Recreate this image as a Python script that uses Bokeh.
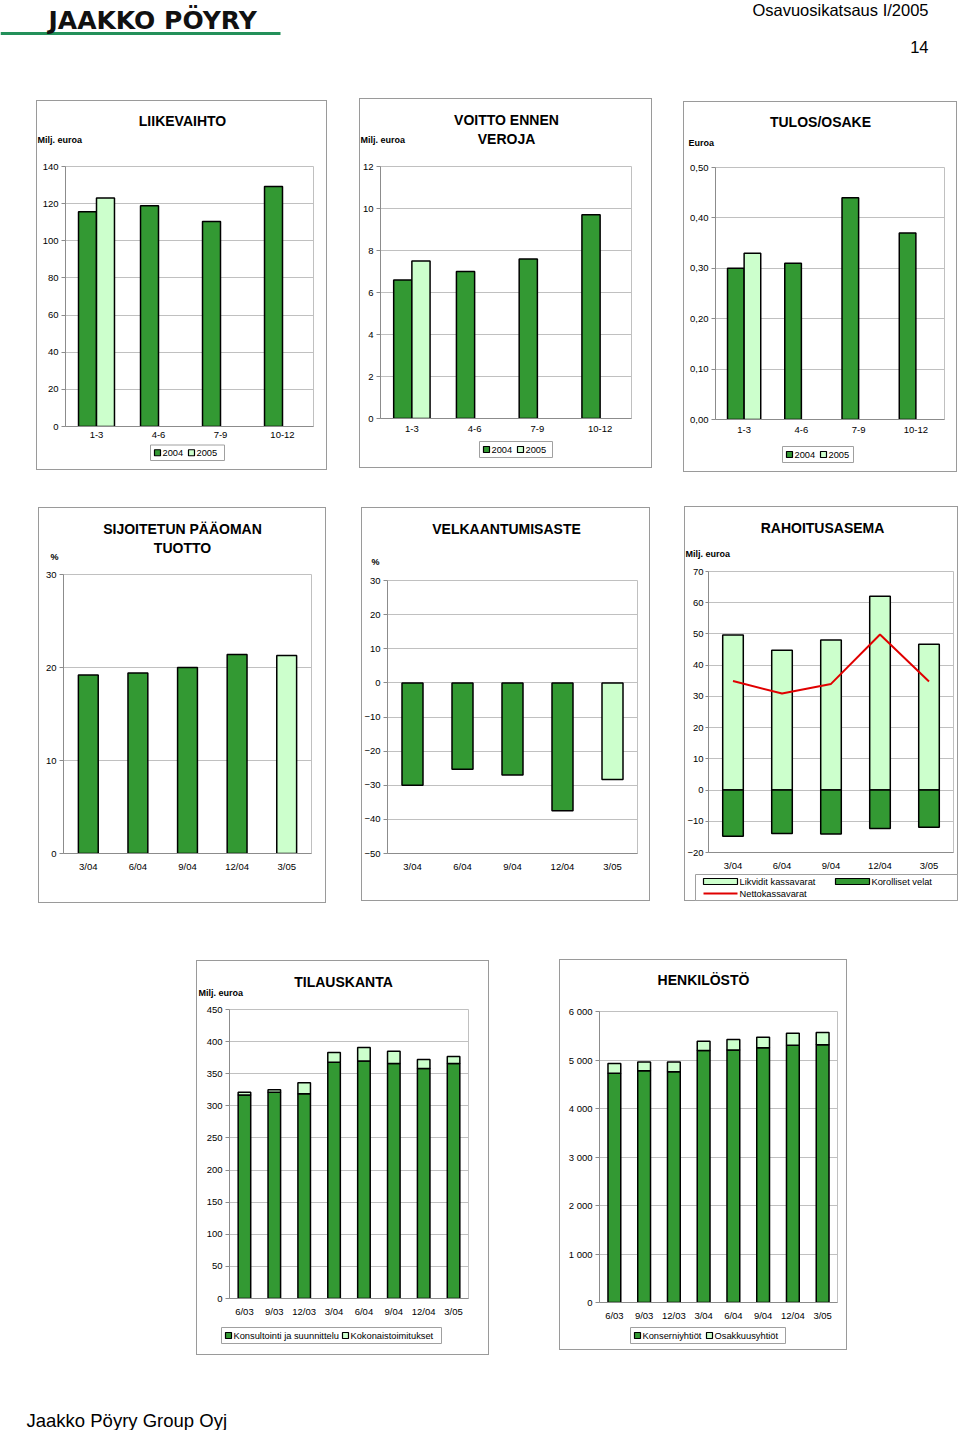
from bokeh.plotting import figure
from bokeh.models import (FactorRange, Range1d, Label, Spacer,
                          SingleIntervalTicker, CustomJSTickFormatter, ColumnDataSource)
from bokeh.layouts import column, row
from bokeh.transform import dodge
from bokeh.embed import file_html
from bokeh.resources import INLINE

# ---------------- data ----------------
quarters = ["1-3", "4-6", "7-9", "10-12"]
quarters_2005 = ["1-3"]
liikevaihto_2004 = [115.6, 118.8, 110.4, 129.2]
liikevaihto_2005 = [123.1]
voitto_2004 = [6.6, 7.0, 7.6, 9.7]
voitto_2005 = [7.5]
tulos_2004 = [0.30, 0.31, 0.44, 0.37]
tulos_2005 = [0.33]

periods5 = ["3/04", "6/04", "9/04", "12/04", "3/05"]
sijoitetun_tuotto = [19.2, 19.4, 20.0, 21.4, 21.3]
velkaantumisaste = [-30.0, -25.3, -27.0, -37.5, -28.3]
likvidit_kassavarat = [49.7, 44.8, 48.1, 62.1, 46.7]
korolliset_velat = [-14.8, -13.9, -14.1, -12.3, -11.9]
nettokassavarat = [34.9, 30.9, 34.0, 49.8, 34.8]

periods8 = ["6/03", "9/03", "12/03", "3/04", "6/04", "9/04", "12/04", "3/05"]
konsultointi = [317, 321, 319, 368, 370, 366, 358, 366]
kokonaistoimitukset = [4, 4, 17, 15, 21, 19, 14, 11]
konserniyhtiot = [4725, 4780, 4760, 5195, 5205, 5255, 5305, 5315]
osakkuusyhtiot = [205, 180, 200, 190, 220, 215, 245, 250]

# ---------------- style ----------------
FONT = "Liberation Sans"
DARK = "#339933"
LIGHT = "#ccffcc"
RED = "#e00000"
GRID = "#c0c0c0"
AXIS = "#8c8c8c"
BOXLINE = "#9a9a9a"
SMALL = "9.5px"
LEGFONT = "9.3px"
TOPB = 8


def strip(x0, x1, y0, y1):
    f = figure(width=x1 - x0, height=y1 - y0, x_range=Range1d(x0, x1), y_range=Range1d(y1, y0),
               output_backend="svg", toolbar_location=None, x_axis_location=None, y_axis_location=None,
               min_border=0, outline_line_color=None, border_fill_color=None, background_fill_color=None,
               frame_align=False)
    f.grid.visible = False
    return f


class Chart:
    def __init__(self, box, frame, factors, y0, y1, step, fmt=None, tick_out=4, standoff=3,
                 xstandoff=7, split=None):
        bx0, by0, bx1, by1 = box
        fx0, fy0, fx1, fy1 = frame
        self.box, self.frame = box, frame
        hs = fy0 - by0 - TOPB
        bottom = split if split else by1
        self.s = strip(bx0, bx1, by0, by0 + hs)
        self.b = strip(bx0, bx1, split, by1) if split else None
        p = figure(width=bx1 - bx0, height=bottom - by0 - hs,
                   x_range=FactorRange(factors=factors, range_padding=0),
                   y_range=Range1d(y0, y1),
                   output_backend="svg", toolbar_location=None, frame_align=False,
                   min_border_left=fx0 - bx0, min_border_right=bx1 - fx1,
                   min_border_top=TOPB, min_border_bottom=bottom - fy1,
                   background_fill_color="white", border_fill_color=None,
                   outline_line_color=GRID)
        p.xgrid.visible = False
        p.ygrid.grid_line_color = GRID
        p.yaxis.ticker = SingleIntervalTicker(interval=step, num_minor_ticks=0)
        if fmt:
            p.yaxis.formatter = CustomJSTickFormatter(code=fmt)
        for ax in (p.xaxis, p.yaxis):
            ax.major_label_text_font = FONT
            ax.major_label_text_font_size = SMALL
            ax.major_label_text_color = "black"
            ax.axis_line_color = AXIS
            ax.minor_tick_line_color = None
            ax.major_tick_in = 0
        p.yaxis.major_tick_out = tick_out
        p.yaxis.major_tick_line_color = AXIS
        p.yaxis.major_label_standoff = standoff
        p.xaxis.major_tick_out = 0
        p.xaxis.major_tick_line_color = None
        p.xaxis.major_label_standoff = xstandoff
        p.xaxis.major_label_orientation = "horizontal"
        self.p = p

    def text(self, X, Y, t, size="14px", bold=True, align="center", target=None):
        (target or self.s).add_layout(Label(x=X, y=Y, text=t, text_font=FONT, text_font_size=size,
                                            text_font_style="bold" if bold else "normal",
                                            text_align=align, text_baseline="middle", text_color="black"))

    def legend(self, lbox, entries):
        """Legend drawn in the strip below the chart: lbox=(left, top, right, bottom) in page px;
        entries = (kind, colour, label, swatch_x, centre_y)."""
        L, T, R, B = lbox
        b = self.b
        b.quad(left=[L], right=[R], top=[T], bottom=[B], fill_color="white",
               line_color="#a0a0a0", line_width=1)
        for kind, color, label, sx, sy in entries:
            if kind == "sq":
                w = 6
                b.quad(left=[sx], right=[sx + w], top=[sy - 3], bottom=[sy + 3], fill_color=color,
                       line_color="black", line_width=1.2)
            elif kind == "bar":
                w = 34
                b.quad(left=[sx], right=[sx + w], top=[sy - 3], bottom=[sy + 3], fill_color=color,
                       line_color="black", line_width=1.2)
            else:
                w = 34
                b.segment(x0=[sx], y0=[sy], x1=[sx + w], y1=[sy], line_color=color, line_width=2)
            self.text(sx + w + 2, sy, label, size=LEGFONT, bold=False, align="left", target=b)

    def layout(self):
        kids = [self.s, self.p] + ([self.b] if self.b is not None else [])
        return column(*kids, styles={"outline": f"1px solid {BOXLINE}", "outline-offset": "-1px"})


def quarter_chart(box, frame, y1, step, v04, v05, title_lines, unit, unit_pos, title_pos,
                  split, lbox, fmt=None, xstandoff=7):
    c = Chart(box, frame, quarters, 0, y1, step, fmt=fmt, split=split, xstandoff=xstandoff)
    p = c.p
    s04 = ColumnDataSource(dict(q=quarters, v=v04))
    s05 = ColumnDataSource(dict(q=quarters_2005, v=v05))
    p.vbar(x=dodge("q", -0.145, range=p.x_range), top="v", width=0.29, source=s04,
           fill_color=DARK, line_color="black", line_width=1.5)
    p.vbar(x=dodge("q", 0.145, range=p.x_range), top="v", width=0.29, source=s05,
           fill_color=LIGHT, line_color="black", line_width=1.5)
    for i, t in enumerate(title_lines):
        c.text(title_pos[0], title_pos[1] + 19.5 * i, t)
    c.text(unit_pos[0], unit_pos[1], unit, size="9px", align="left")
    L, T, R, B = lbox
    cy = (T + B) / 2
    c.legend(lbox, [("sq", DARK, "2004", L + 4, cy), ("sq", LIGHT, "2005", L + 38, cy)])
    return c


# ---------------- row 1 ----------------
c1 = quarter_chart((36, 100, 327, 470), (65, 166, 313, 426), 140, 20,
                   liikevaihto_2004, liikevaihto_2005, ["LIIKEVAIHTO"], "Milj. euroa",
                   (37, 139), (182, 120.5), 443, (150, 444.5, 224, 460), xstandoff=5)
c2 = quarter_chart((359, 98, 652, 468), (380, 166, 631, 418), 12, 2,
                   voitto_2004, voitto_2005, ["VOITTO ENNEN", "VEROJA"], "Milj. euroa",
                   (360, 139.5), (506, 119), 439, (479, 441, 552, 457))
c3 = quarter_chart((683, 101, 957, 472), (715, 167, 944, 419), 0.5, 0.1,
                   tulos_2004, tulos_2005, ["TULOS/OSAKE"], "Euroa",
                   (688, 142.5), (820, 121.5), 443, (782, 446, 853, 462),
                   fmt="return tick.toFixed(2).replace('.', ',');")

# ---------------- row 2 ----------------
bar_colors5 = [DARK] * (len(periods5) - 1) + [LIGHT]

c4 = Chart((38, 507, 326, 903), (63, 574, 311, 853), periods5, 0, 30, 10)
c4.p.vbar(x="p", top="v", width=0.4,
          source=ColumnDataSource(dict(p=periods5, v=sijoitetun_tuotto, c=bar_colors5)),
          fill_color="c", line_color="black", line_width=1.5)
c4.text(182, 528, "SIJOITETUN PÄÄOMAN")
c4.text(182, 547.5, "TUOTTO")
c4.text(50, 556, "%", size="9px", align="left")

c5 = Chart((361, 507, 650, 901), (385, 580, 637, 853), periods5, -50, 30, 10)
c5.p.vbar(x="p", top=0, bottom="v", width=0.42,
          source=ColumnDataSource(dict(p=periods5, v=velkaantumisaste, c=bar_colors5)),
          fill_color="c", line_color="black", line_width=1.5)
c5.text(506, 528, "VELKAANTUMISASTE")
c5.text(371, 561, "%", size="9px", align="left")

c6 = Chart((684, 506, 958, 901), (705, 571, 953, 853), periods5, -20, 70, 10, tick_out=3, standoff=2,
           split=873)
s6 = ColumnDataSource(dict(p=periods5, lik=likvidit_kassavarat, kor=korolliset_velat, net=nettokassavarat))
c6.p.vbar(x="p", top="lik", bottom=0, width=0.42, source=s6,
          fill_color=LIGHT, line_color="black", line_width=1.5)
c6.p.vbar(x="p", top=0, bottom="kor", width=0.42, source=s6,
          fill_color=DARK, line_color="black", line_width=1.5)
c6.p.line(x="p", y="net", source=s6, line_color=RED, line_width=2)
c6.text(822, 527, "RAHOITUSASEMA")
c6.text(685, 553, "Milj.  euroa", size="9px", align="left")
c6.legend((695, 874, 957, 900),
          [("bar", LIGHT, "Likvidit kassavarat", 703, 881),
           ("bar", DARK, "Korolliset velat", 835, 881),
           ("line", RED, "Nettokassavarat", 703, 893)])

# ---------------- row 3 ----------------
c7 = Chart((196, 960, 489, 1355), (229, 1009, 468, 1298), periods8, 0, 450, 50, split=1320)
s7 = ColumnDataSource(dict(p=periods8, kons=konsultointi, koko=kokonaistoimitukset))
c7.p.vbar_stack(["kons", "koko"], x="p", width=0.42, source=s7,
                fill_color=[DARK, LIGHT], line_color="black", line_width=1.5)
c7.text(343, 981, "TILAUSKANTA")
c7.text(198, 992, "Milj. euroa", size="9px", align="left")
c7.legend((221, 1327, 441, 1343),
          [("sq", DARK, "Konsultointi ja suunnittelu", 225, 1335),
           ("sq", LIGHT, "Kokonaistoimitukset", 342, 1335)])

c8 = Chart((559, 959, 847, 1350), (599, 1011, 837, 1302), periods8, 0, 6000, 1000, split=1323,
           fmt=r"return Math.round(tick).toString().replace(/\B(?=(\d{3})+(?!\d))/g, ' ');")
s8 = ColumnDataSource(dict(p=periods8, kon=konserniyhtiot, osa=osakkuusyhtiot))
c8.p.vbar_stack(["kon", "osa"], x="p", width=0.43, source=s8,
                fill_color=[DARK, LIGHT], line_color="black", line_width=1.5)
c8.text(703, 979, "HENKILÖSTÖ")
c8.legend((630, 1327, 785, 1343),
          [("sq", DARK, "Konserniyhtiöt", 634, 1335),
           ("sq", LIGHT, "Osakkuusyhtiöt", 706, 1335)])

# ---------------- header / footer ----------------
hdr = strip(0, 960, 0, 60)
hdr.add_layout(Label(x=48, y=19.5, text="JAAKKO PÖYRY", text_font="DejaVu Sans", text_font_size="25px",
                     text_font_style="bold", text_baseline="middle", text_color="#111111"))
hdr.segment(x0=0, y0=33, x1=280, y1=33, line_color="#23905a", line_width=3)
hdr.add_layout(Label(x=928, y=9, text="Osavuosikatsaus I/2005", text_font=FONT, text_font_size="16.5px",
                     text_align="right", text_baseline="middle", text_color="black"))
hdr.add_layout(Label(x=928, y=46, text="14", text_font=FONT, text_font_size="16.5px",
                     text_align="right", text_baseline="middle", text_color="black"))

ftr = strip(0, 960, 1400, 1430)
ftr.add_layout(Label(x=26, y=1420, text="Jaakko Pöyry Group Oyj", text_font=FONT, text_font_size="18.5px",
                     text_baseline="middle", text_color="black"))


def band(charts, top):
    children = []
    cur = 0
    for c in charts:
        x0, y0, x1, y1 = c.box
        if x0 - cur > 0:
            children.append(Spacer(width=x0 - cur, height=1))
        d = y0 - top
        if d > 0:
            children.append(column(Spacer(width=x1 - x0, height=d), c.layout()))
        else:
            children.append(c.layout())
        cur = x1
    return row(*children)


page = column(
    hdr,
    Spacer(width=10, height=38),
    band([c1, c2, c3], 98),
    Spacer(width=10, height=34),
    band([c4, c5, c6], 506),
    Spacer(width=10, height=56),
    band([c7, c8], 959),
    Spacer(width=10, height=45),
    ftr,
)

open("out.html", "w").write(file_html(page, INLINE))
